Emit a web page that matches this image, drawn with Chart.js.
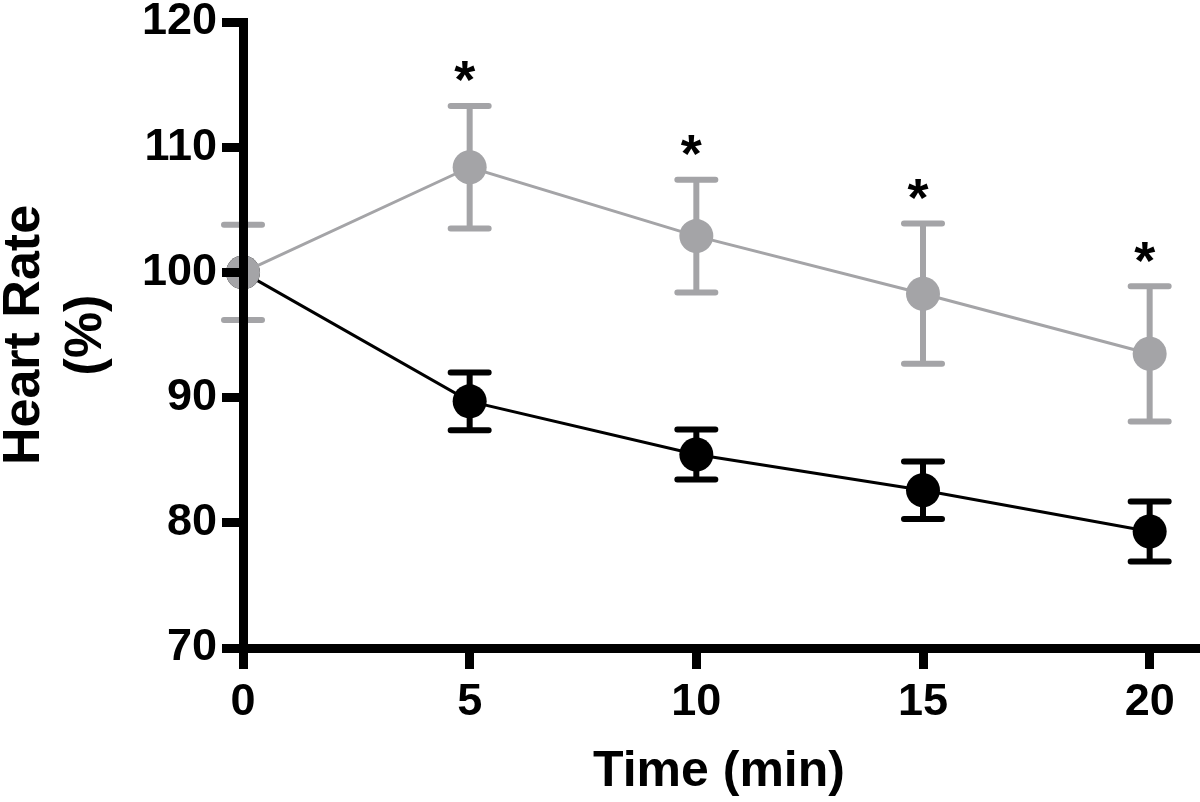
<!DOCTYPE html>
<html>
<head>
    <title>Heart Rate</title>
    <script src="https://cdn.jsdelivr.net/npm/chart.js"></script>
    <style>
        html, body { margin: 0; padding: 0; overflow: hidden; background: #fff; }
        canvas { display: block; }
    </style>
</head>
<body>
    <canvas id="hrChart" width="1200" height="802"></canvas>

    <script>
        // Dados
        const times = [0, 5, 10, 15, 20];
        const grayMean = [100, 108.4, 102.9, 98.3, 93.5];
        const grayErr = [3.8, 4.9, 4.5, 5.6, 5.4];
        const blackMean = [100, 89.7, 85.45, 82.6, 79.3];
        const blackErr = [0, 2.3, 2.0, 2.3, 2.4];
        const significant = [false, true, true, true, true];

        const yTicks = [70, 80, 90, 100, 110, 120];
        const xTicks = [0, 5, 10, 15, 20];

        const GRAY = '#a4a4a7';
        const FONT = "'Liberation Sans', Arial, sans-serif";

        function points(means) {
            return times.map((t, i) => ({ x: t, y: means[i] }));
        }

        // Barras de erro e asteriscos
        const errorBars = {
            id: 'errorBars',
            beforeDatasetDraw(chart, args) {
                const ds = chart.data.datasets[args.index];
                const xs = chart.scales.x, ys = chart.scales.y;
                const ctx = chart.ctx;
                ctx.save();
                ctx.strokeStyle = ds.borderColor;
                ctx.lineWidth = 6;
                ctx.lineCap = 'round';
                ds.errors.forEach((e, i) => {
                    if (!e) return;
                    const px = xs.getPixelForValue(times[i]);
                    const top = ys.getPixelForValue(ds.means[i] + e);
                    const bot = ys.getPixelForValue(ds.means[i] - e);
                    ctx.beginPath();
                    ctx.moveTo(px, top); ctx.lineTo(px, bot);
                    ctx.moveTo(px - 19, top); ctx.lineTo(px + 19, top);
                    ctx.moveTo(px - 19, bot); ctx.lineTo(px + 19, bot);
                    ctx.stroke();
                });
                ctx.restore();
            },
            afterDatasetsDraw(chart) {
                const xs = chart.scales.x, ys = chart.scales.y;
                const ctx = chart.ctx;
                ctx.save();
                ctx.fillStyle = '#000';
                ctx.font = 'bold 54px ' + FONT;
                ctx.textAlign = 'center';
                ctx.textBaseline = 'alphabetic';
                const m = ctx.measureText('*');
                const half = (m.actualBoundingBoxAscent - m.actualBoundingBoxDescent) / 2;
                significant.forEach((s, i) => {
                    if (!s) return;
                    const px = xs.getPixelForValue(times[i]) - 5;
                    const top = ys.getPixelForValue(grayMean[i] + grayErr[i]);
                    ctx.fillText('*', px, top - 34 + half);
                });
                ctx.restore();
            }
        };

        const ctx = document.getElementById('hrChart').getContext('2d');
        const hrChart = new Chart(ctx, {
            type: 'line',
            data: {
                datasets: [{
                    label: 'Grupo cinza',
                    data: points(grayMean),
                    means: grayMean,
                    errors: grayErr,
                    borderColor: GRAY,
                    backgroundColor: GRAY,
                    borderWidth: 3,
                    pointRadius: 17,
                    pointBorderWidth: 0,
                    pointBackgroundColor: GRAY,
                    tension: 0,
                    clip: false
                }, {
                    label: 'Grupo preto',
                    data: points(blackMean),
                    means: blackMean,
                    errors: blackErr,
                    borderColor: '#000',
                    backgroundColor: '#000',
                    borderWidth: 3,
                    pointRadius: 17,
                    pointBorderWidth: 0,
                    pointBackgroundColor: '#000',
                    tension: 0,
                    clip: false
                }]
            },
            options: {
                responsive: false,
                animation: false,
                layout: { autoPadding: false, padding: { left: 0, top: 22, right: 5, bottom: 0 } },
                plugins: {
                    legend: { display: false },
                    tooltip: { enabled: false }
                },
                scales: {
                    x: {
                        type: 'linear',
                        position: 'bottom',
                        min: 0,
                        max: 21,
                        afterFit(s) { s.height = 154; s.paddingLeft = 0; s.paddingRight = 0; },
                        afterBuildTicks(s) { s.ticks = xTicks.map(v => ({ value: v })); },
                        border: { display: true, color: '#000', width: 9, z: 1 },
                        grid: {
                            z: 1,
                            drawOnChartArea: false,
                            drawTicks: true,
                            tickLength: 21,
                            tickWidth: 9,
                            lineWidth: 9,
                            tickColor: '#000'
                        },
                        ticks: {
                            z: 1,
                            color: '#000',
                            padding: 7,
                            maxRotation: 0,
                            font: { family: FONT, size: 45, weight: 'bold', lineHeight: 1.2 }
                        },
                        title: {
                            display: true,
                            text: 'Time (min)',
                            color: '#000',
                            padding: { top: 0, bottom: 0 },
                            font: { family: FONT, size: 50, weight: 'bold', lineHeight: 1.2 }
                        }
                    },
                    y: {
                        min: 70,
                        max: 120,
                        afterFit(s) { s.width = 243; s.paddingTop = 0; s.paddingBottom = 0; },
                        afterBuildTicks(s) { s.ticks = yTicks.map(v => ({ value: v })); },
                        border: { display: true, color: '#000', width: 9, z: 1 },
                        grid: {
                            z: 1,
                            drawOnChartArea: false,
                            drawTicks: true,
                            tickLength: 21,
                            tickWidth: 9,
                            lineWidth: 9,
                            tickColor: '#000'
                        },
                        ticks: {
                            z: 1,
                            color: '#000',
                            padding: 5,
                            font: { family: FONT, size: 45, weight: 'bold', lineHeight: 1 }
                        },
                        title: {
                            display: true,
                            text: ['Heart Rate', '(%)'],
                            color: '#000',
                            padding: { top: -7, bottom: 0 },
                            font: { family: FONT, size: 52, weight: 'bold', lineHeight: '62.5px' }
                        }
                    }
                }
            },
            plugins: [errorBars]
        });
    </script>
</body>
</html>
